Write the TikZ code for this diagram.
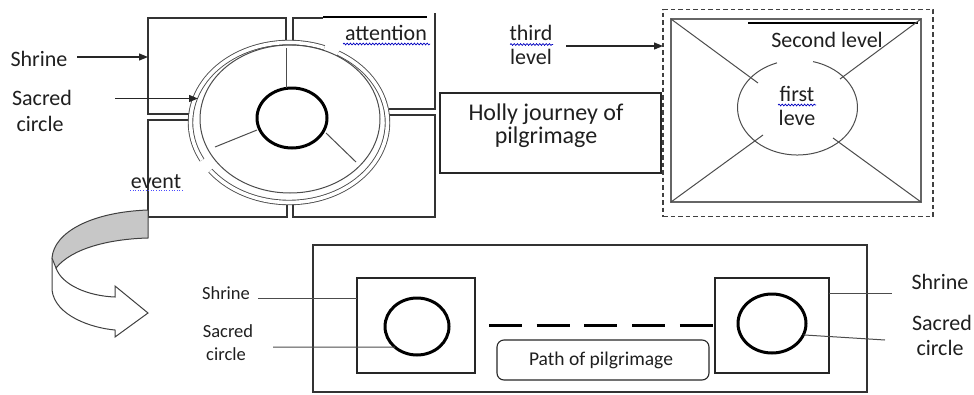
\documentclass[tikz,border=0pt]{standalone}
\usepackage{fontspec}
\setmainfont{Carlito}
\usetikzlibrary{arrows.meta,decorations.pathmorphing,shapes.geometric}
\begin{document}
\begin{tikzpicture}[x=1pt,y=-1pt,
  every node/.style={inner sep=0pt,outer sep=0pt},
  big/.style={font=\fontsize{22}{25}\selectfont,text=black!88,anchor=base},
  bigger/.style={font=\fontsize{24}{27}\selectfont,text=black!88,anchor=base},
  small/.style={font=\fontsize{18.5}{22}\selectfont,text=black!88,anchor=base},
  ln/.style={draw=black!80,line width=1.2pt},
  fine/.style={draw=black!70,line width=1pt},
  pointer/.style={draw=black!85,line width=1.2pt,-{Triangle[length=9pt,width=7pt]}},
  spell/.style={draw=blue!75!black,line width=0.7pt,decorate,decoration={snake,amplitude=0.9pt,segment length=3.2pt}},
  dotspell/.style={draw=blue!70,line width=0.9pt,dash pattern=on 1pt off 1.6pt},
  core/.style={draw=black,line width=3pt,ellipse},
  band/.style={draw=black!70,line width=0.9pt,double=white,double distance=3.6pt},
]
\useasboundingbox (0,0) rectangle (974,394);

% ---------- top-left: shrine with sacred circle ----------
\draw[ln] (189,114) -- (148,114) -- (148,18) -- (286,18) -- (286,40);
\draw[ln] (293,40) -- (293,18) -- (323,18);
\draw[draw=black,line width=1.3pt] (323,17) -- (427,17);
\draw[ln] (435,13) -- (435,109) -- (389,109);
\draw[ln] (189,120) -- (148,120) -- (148,217) -- (287,217) -- (287,205);
\draw[ln] (293,205) -- (293,217) -- (435,217) -- (435,115) -- (389,115);
\draw[band] ([shift={(289,122.5)}]-69:98.5 and 80) arc[start angle=-69,end angle=-208,x radius=98.5,y radius=80];
\draw[band] ([shift={(289,122.5)}]-217:98.5 and 80) arc[start angle=-217,end angle=-420,x radius=98.5,y radius=80];
\draw[fine] (290,119) ellipse[x radius=90,y radius=74];
\node[core,minimum width=70,minimum height=60] (coreA) at (292,118) {};
\draw[fine] (286,48) -- (286,88);
\draw[fine] (215,147) -- (257,130);
\draw[fine] (326,133) -- (356,162);

\node[big] (shrineA) at (39,66) {Shrine};
\node[big] (sacredA) at (42,105) {Sacred};
\node[big] (circleA) at (40,131) {circle};
\node[big] (attn) at (386,40.7) {attention};
\node[big] (event) at (156,188) {event};
\draw[spell] (343,44) -- (430,44);
\draw[dotspell] (130,190.5) -- (183,190.5);

\coordinate (shrineTail) at (77,57);
\coordinate (shrineHead) at (148,57);
\coordinate (sacredTail) at (115,98.5);
\coordinate (sacredHead) at (198,98.5);
\draw[pointer] (shrineTail) -- (shrineHead);
\draw[pointer] (sacredTail) -- (sacredHead);

% ---------- curved arrow ----------
\draw[draw=black!75,line width=1pt,fill=white]
  (52,258) -- (52,290) .. controls (55,316) and (92,328) .. (115,330)
  -- (115,337) -- (148,313) -- (115,286) -- (115,297)
  .. controls (88,296) and (62,285) .. (56,268);
\draw[draw=black!75,line width=1pt,fill=black!22]
  (148,210) .. controls (92,212) and (54,232) .. (52,258)
  -- (56,268) .. controls (72,248) and (110,239) .. (148,238) -- cycle;

% ---------- Holly journey box ----------
\node[draw=black!85,line width=1.2pt,minimum width=221,minimum height=80] (holly) at (550.5,133) {};
\node[bigger] (hollyA) at (546,120) {Holly journey of};
\node[bigger] (hollyB) at (546,143.5) {pilgrimage};

% ---------- third level ----------
\node[draw=black!75,line width=1.4pt,dash pattern=on 4.5pt off 3pt,minimum width=270,minimum height=207] (third) at (798,113) {};
\draw[draw=black!60,line width=2.6pt] (671,19) rectangle (921,202);
\draw[draw=black,line width=1.2pt] (748,23) -- (918,23);
\draw[fine] ([shift={(797.5,107.5)}]-75:60 and 47.5) arc[start angle=-75,end angle=250,x radius=60,y radius=47.5];
\draw[fine] (671,19) -- (758,83);
\draw[fine] (671,202) -- (763,135);
\draw[fine] (921,202) -- (833,138);
\draw[fine] (921,19) -- (840,79);

\node[big] (thirdA) at (531,40) {third};
\node[big] (thirdB) at (531,64) {level};
\draw[spell] (510,44.5) -- (553,44.5);
\coordinate (thirdTail) at (566,46);
\draw[pointer] (thirdTail) -- (thirdTail -| third.west);

\node[big] (second) at (827,47.7) {Second level};
\node[big] (firstA) at (797,101.7) {first};
\node[big] (firstB) at (797,125) {leve};
\draw[spell] (778,105) -- (816,105);

% ---------- bottom: path of pilgrimage ----------
\draw[ln] (313,245) rectangle (867,392);
\node[draw=black!85,line width=1.2pt,minimum width=118,minimum height=95] (lbox) at (416,325.5) {};
\node[draw=black!85,line width=1.2pt,minimum width=114,minimum height=95] (rbox) at (772,325.5) {};
\node[core,minimum width=64,minimum height=57] (lcirc) at (417,326.5) {};
\node[core,minimum width=68,minimum height=59] (rcirc) at (772,323.5) {};
\coordinate (dashStart) at (489,325.5);
\draw[draw=black,line width=3pt,dash pattern=on 33pt off 14.7pt] (dashStart) -- (dashStart -| rbox.west);
\node[draw=black!85,line width=1.1pt,rounded corners=7pt,minimum width=212,minimum height=40] (pathbox) at (603,360) {};
\node[small,font=\fontsize{19.5}{22}\selectfont] (path) at (601,365.4) {Path of pilgrimage};

\node[small] (shrineB) at (226,299.3) {Shrine};
\node[small] (sacredB) at (228,337.7) {Sacred};
\node[small] (circleB) at (226,360) {circle};
\coordinate (sB) at (258,298);
\draw[fine] (sB) -- (sB -| lbox.west);
\coordinate (cB) at (273,347);
\draw[fine] (cB) -- (lcirc.223);

\node[big] (shrineC) at (940,289.3) {Shrine};
\node[big] (sacredC) at (942,330.7) {Sacred};
\node[big] (circleC) at (940,355) {circle};
\coordinate (sC) at (892,293);
\draw[fine] (sC -| rbox.east) -- (sC);
\coordinate (cC) at (885,340);
\draw[fine] (rcirc.-20) -- (cC);
\end{tikzpicture}
\end{document}
